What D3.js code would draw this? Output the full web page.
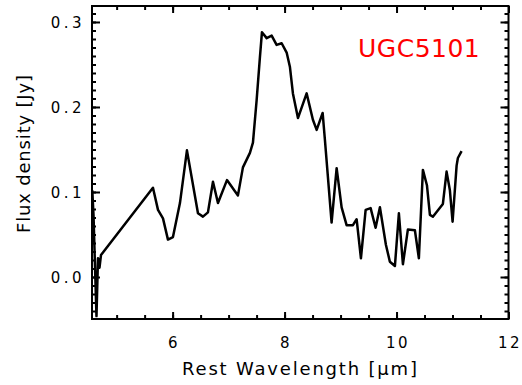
<!DOCTYPE html>
<html>
<head>
<meta charset="utf-8">
<script src="https://cdn.jsdelivr.net/npm/d3@7"></script>
<style>
  body { margin: 0; background: #fff; }
  text { font-family: "DejaVu Sans", sans-serif; }
</style>
</head>
<body>
<svg id="chart" width="522" height="385"></svg>
<script>
// spectrum
var wavelength = [4.565, 4.587, 4.605, 4.640, 4.667, 4.694, 4.721, 5.649, 5.739, 5.828,
  5.917, 6.006, 6.131, 6.256, 6.453, 6.542, 6.631, 6.721, 6.810, 6.971,
  7.167, 7.256, 7.381, 7.435, 7.501, 7.560, 7.596, 7.680, 7.769, 7.858,
  7.948, 8.037, 8.096, 8.149, 8.239, 8.394, 8.506, 8.573, 8.680, 8.721,
  8.840, 8.930, 9.019, 9.108, 9.221, 9.287, 9.364, 9.448, 9.537, 9.626,
  9.703, 9.810, 9.881, 9.971, 10.042, 10.114, 10.203, 10.328, 10.399, 10.471,
  10.543, 10.596, 10.649, 10.828, 10.894, 10.953, 11.001, 11.073, 11.096, 11.162];
var flux = [0.102, 0.073, 0.032, -0.046, 0.022, 0.011, 0.026, 0.105, 0.079, 0.069,
  0.044, 0.047, 0.087, 0.149, 0.075, 0.071, 0.076, 0.112, 0.087, 0.114,
  0.096, 0.129, 0.146, 0.158, 0.208, 0.259, 0.288, 0.281, 0.284, 0.273,
  0.275, 0.264, 0.247, 0.216, 0.187, 0.216, 0.185, 0.173, 0.193, 0.161,
  0.064, 0.128, 0.082, 0.061, 0.061, 0.068, 0.022, 0.079, 0.081, 0.058,
  0.082, 0.038, 0.018, 0.013, 0.075, 0.015, 0.056, 0.055, 0.022, 0.126,
  0.108, 0.073, 0.071, 0.086, 0.124, 0.102, 0.065, 0.131, 0.140, 0.148];

var xTicks = [6, 8, 10, 12];
var xMinor = d3.range(5, 12.01, 0.5);
var yTicks = [0.0, 0.1, 0.2, 0.3];
var yMinor = d3.range(-0.04, 0.3101, 0.01);
var yTickLabels = ["0.0", "0.1", "0.2", "0.3"];
var label = "UGC5101";

var margin = {top: 6, right: 13.5, bottom: 66, left: 92};
var width = 522 - margin.left - margin.right,
    height = 385 - margin.top - margin.bottom;

var svg = d3.select("#chart");
var g = svg.append("g")
  .attr("transform", "translate(" + margin.left + "," + margin.top + ")");

var x = d3.scaleLinear().domain([4.56, 12]).range([0, width]);
var y = d3.scaleLinear().domain([-0.0494, 0.3188]).range([height, 0]);

function clean(sel) {
  sel.select(".domain").remove();
  sel.selectAll(".tick line").attr("stroke", "#000").attr("stroke-width", 2);
}

// frame first, ticks on top of it
g.append("rect")
  .attr("width", width).attr("height", height)
  .attr("fill", "none").attr("stroke", "#000").attr("stroke-width", 2);

// minor ticks, all four sides, pointing inward
g.append("g").attr("transform", "translate(0," + height + ")")
  .call(d3.axisBottom(x).tickValues(xMinor).tickSize(-4).tickFormat("")).call(clean);
g.append("g")
  .call(d3.axisTop(x).tickValues(xMinor).tickSize(-4).tickFormat("")).call(clean);
g.append("g")
  .call(d3.axisLeft(y).tickValues(yMinor).tickSize(-4).tickFormat("")).call(clean);
g.append("g").attr("transform", "translate(" + width + ",0)")
  .call(d3.axisRight(y).tickValues(yMinor).tickSize(-4).tickFormat("")).call(clean);

// major ticks
var xb = g.append("g").attr("transform", "translate(0," + height + ")")
  .call(d3.axisBottom(x).tickValues(xTicks).tickSize(-7).tickFormat(d3.format("d"))).call(clean);
xb.selectAll("text")
  .attr("y", 29).attr("dy", null).attr("x", 1)
  .attr("font-size", 15)
  .style("letter-spacing", "2.5px")
  .attr("font-family", "DejaVu Sans").attr("fill", "#000");
g.append("g")
  .call(d3.axisTop(x).tickValues(xTicks).tickSize(-7).tickFormat("")).call(clean);
var yl = g.append("g")
  .call(d3.axisLeft(y).tickValues(yTicks).tickSize(-8)
    .tickFormat(function(d, i) { return yTickLabels[i]; })).call(clean);
yl.selectAll("text")
  .attr("x", -7).attr("dy", "0.38em")
  .attr("font-size", 15)
  .style("letter-spacing", "3.5px")
  .attr("font-family", "DejaVu Sans").attr("fill", "#000");
g.append("g").attr("transform", "translate(" + width + ",0)")
  .call(d3.axisRight(y).tickValues(yTicks).tickSize(-8).tickFormat("")).call(clean);

// clip so the dip below the axis stays inside
g.append("clipPath").attr("id", "clip")
  .append("rect").attr("width", width).attr("height", height);

var line = d3.line()
  .x(function(d, i) { return x(wavelength[i]); })
  .y(function(d) { return y(d); });

g.append("path")
  .datum(flux)
  .attr("clip-path", "url(#clip)")
  .attr("d", line)
  .attr("fill", "none")
  .attr("stroke", "#000")
  .attr("stroke-width", 2.5)
  .attr("stroke-linejoin", "round");

g.append("text")
  .attr("x", 266).attr("y", 51)
  .attr("fill", "#ff0000")
  .attr("font-family", "Liberation Sans")
  .attr("font-size", 25)
  .style("letter-spacing", "0.5px")
  .text(label);

// axis titles
svg.append("text")
  .attr("x", 182).attr("y", 375)
  .attr("font-size", 18)
  .attr("textLength", 235).attr("lengthAdjust", "spacing")
  .text("Rest Wavelength [\u03bcm]");

svg.append("text")
  .attr("transform", "translate(30,233) rotate(-90)")
  .attr("font-size", 18)
  .attr("textLength", 158).attr("lengthAdjust", "spacing")
  .text("Flux density [Jy]");
</script>
</body>
</html>
